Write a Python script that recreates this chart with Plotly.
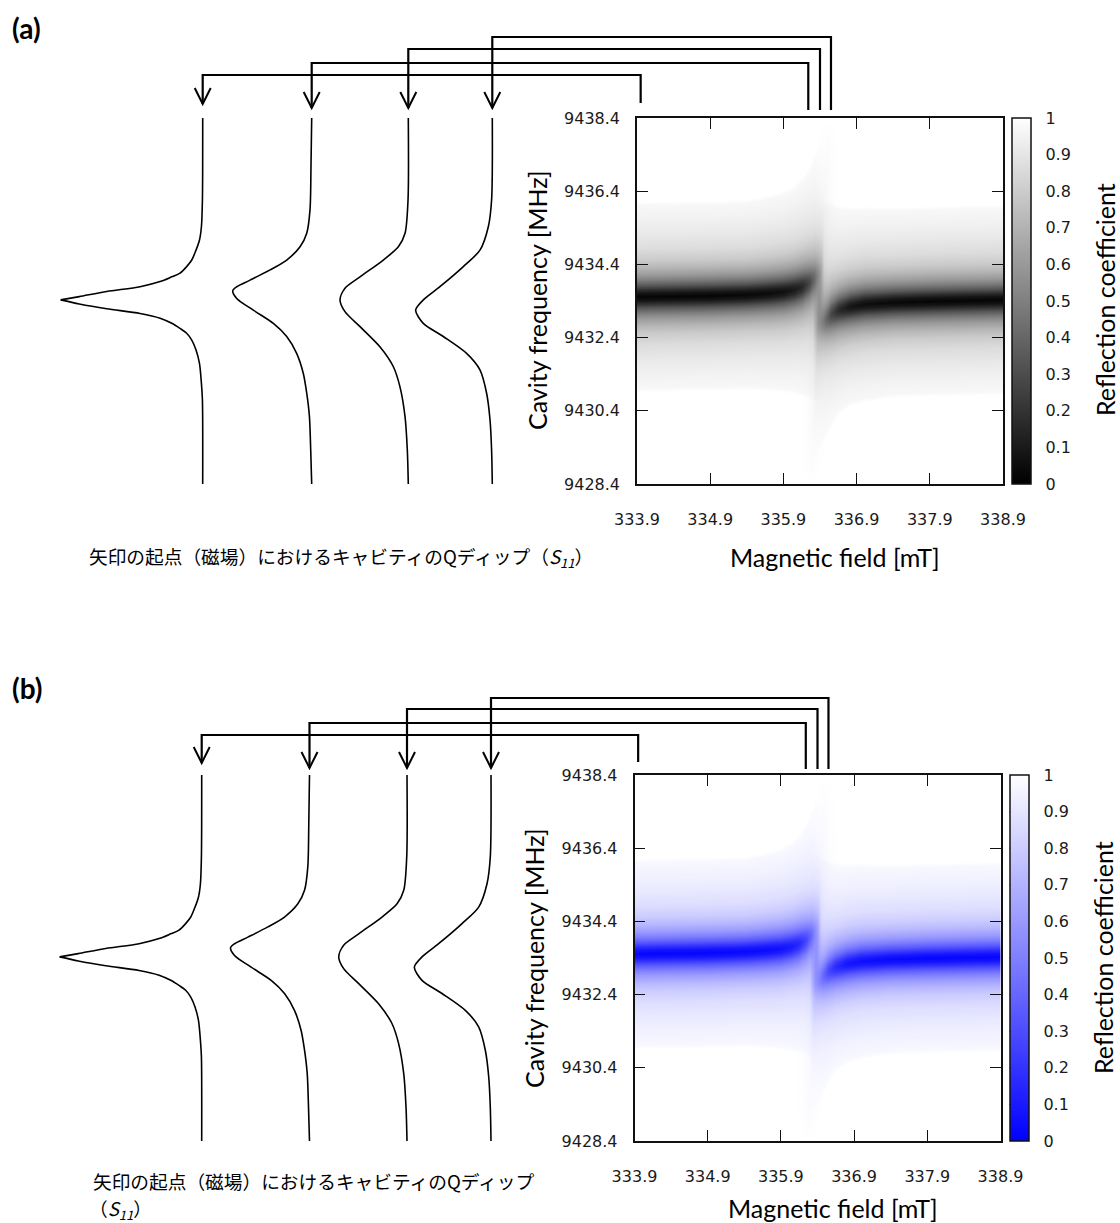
import numpy as np
import plotly.graph_objects as go

W, H = 1120, 1223

# ---------------- data ----------------
FIELD_TICKS = [333.9, 334.9, 335.9, 336.9, 337.9, 338.9]
FIELD_TICK_TEXT = ["333.9", "334.9", "335.9", "336.9", "337.9", "338.9"]
FREQ_TICKS = [9428.4, 9430.4, 9432.4, 9434.4, 9436.4, 9438.4]
FREQ_TICK_TEXT = ["9428.4", "9430.4", "9432.4", "9434.4", "9436.4", "9438.4"]
CB_TICKS = [0, 0.1, 0.2, 0.3, 0.4, 0.5, 0.6, 0.7, 0.8, 0.9, 1]
CB_TICK_TEXT = ["0", "0.1", "0.2", "0.3", "0.4", "0.5", "0.6", "0.7", "0.8", "0.9", "1"]

# lower-field branch of the cavity dip (dark band)
BRANCH_L_FIELD_MT = [333.9, 334.9, 335.4, 335.7, 335.9, 336.05, 336.15, 336.25, 336.32, 336.38, 336.45, 338.9]
BRANCH_L_CENTER_MHZ = [9433.52, 9433.55, 9433.58, 9433.62, 9433.66, 9433.72, 9433.79, 9433.90, 9434.02, 9434.15, 9434.30, 9434.30]
BRANCH_L_DEPTH = [0.98, 0.98, 0.97, 0.96, 0.94, 0.90, 0.85, 0.72, 0.55, 0.30, 0.0, 0.0]
BRANCH_L_WIDTH = [1.0, 1.0, 1.0, 1.03, 1.06, 1.1, 1.15, 1.22, 1.3, 1.35, 1.35, 1.35]
# higher-field branch
BRANCH_R_FIELD_MT = [333.9, 336.30, 336.36, 336.42, 336.47, 336.55, 336.65, 336.8, 337.0, 337.4, 337.9, 338.4, 338.9]
BRANCH_R_CENTER_MHZ = [9432.70, 9432.70, 9432.75, 9432.82, 9432.90, 9433.05, 9433.16, 9433.25, 9433.32, 9433.37, 9433.40, 9433.42, 9433.44]
BRANCH_R_DEPTH = [0.0, 0.0, 0.20, 0.40, 0.55, 0.72, 0.84, 0.92, 0.95, 0.97, 0.98, 0.98, 0.98]
BRANCH_R_WIDTH = [1.35, 1.35, 1.35, 1.3, 1.25, 1.18, 1.1, 1.05, 1.03, 1.0, 1.0, 1.0, 1.0]
# vertical cross-section of the dip (distance from band centre -> reflection)
DIP_OFFSET_MHZ = [0.0, 0.1, 0.2, 0.3, 0.45, 0.6, 0.8, 1.0, 1.3, 1.7, 2.1, 2.5, 2.6, 20.0]
DIP_REFL = [0.0, 0.06, 0.18, 0.32, 0.48, 0.60, 0.71, 0.79, 0.86, 0.91, 0.945, 0.97, 1.0, 1.0]
# faint spin-resonance streak
STREAK_FREQ_MHZ = [9428.4, 9429.2, 9430.0, 9430.8, 9431.6, 9432.3, 9432.8, 9433.2, 9433.6, 9434.0,
                   9434.5, 9435.2, 9436.0, 9436.8, 9437.6, 9438.4]
STREAK_FIELD_MT = [336.27, 336.29, 336.31, 336.33, 336.35, 336.36, 336.37, 336.38, 336.39, 336.40,
                   336.41, 336.43, 336.45, 336.47, 336.49, 336.51]
STREAK_DEPTH = [0.0, 0.015, 0.025, 0.035, 0.06, 0.12, 0.2, 0.25, 0.25, 0.2, 0.13, 0.07, 0.04, 0.025, 0.012, 0.0]
STREAK_OFFSET_MT = [0.0, 0.04, 0.08, 0.13, 0.20, 0.30, 5.0]
STREAK_SHAPE = [1.0, 0.70, 0.40, 0.18, 0.06, 0.0, 0.0]

# fields at which the Q-dips are taken (arrow origins)
ARROW_FIELD_MT = [333.95, 336.24, 336.40, 336.55]

# Q-dip curves (reflection vs frequency); None splits the cusp of the first curve
CURVE1_FREQ = [9438.4, 9436.16, 9435.43, 9435.06, 9434.79, 9434.52, 9434.34, 9434.16, 9434.06, 9433.93, 9433.79, 9433.66, 9433.52, 9433.43,
               None,
               9433.43, 9433.32, 9433.19, 9433.06, 9432.93, 9432.79, 9432.65, 9432.52, 9432.33, 9432.06, 9431.70, 9431.15, 9430.70, 9428.4]
CURVE1_REFL = [1.0, 0.998, 0.991, 0.977, 0.953, 0.923, 0.887, 0.840, 0.782, 0.700, 0.559, 0.324, 0.131, 0.0,
               None,
               0.0, 0.131, 0.324, 0.559, 0.700, 0.782, 0.840, 0.887, 0.923, 0.953, 0.977, 0.991, 0.998, 1.0]
CURVE2_FREQ = [9438.4, 9437.07, 9435.89, 9435.25, 9434.88, 9434.52, 9434.25, 9433.97, 9433.79, 9433.68,
               9433.47, 9433.15, 9432.79, 9432.43, 9431.97, 9431.42, 9430.88, 9430.24, 9429.33, 9428.4]
CURVE2_REFL = [1.0, 0.995, 0.988, 0.965, 0.918, 0.824, 0.707, 0.566, 0.472, 0.444,
               0.472, 0.589, 0.730, 0.824, 0.894, 0.941, 0.965, 0.984, 0.993, 1.0]
CURVE3_FREQ = [9438.4, 9436.16, 9435.25, 9434.88, 9434.52, 9434.06, 9433.75, 9433.43,
               9433.11, 9432.70, 9432.15, 9431.61, 9431.06, 9430.24, 9429.33, 9428.4]
CURVE3_REFL = [1.0, 0.998, 0.977, 0.930, 0.824, 0.660, 0.554, 0.519,
               0.554, 0.660, 0.800, 0.894, 0.941, 0.977, 0.993, 1.0]
CURVE4_FREQ = [9438.4, 9436.16, 9435.43, 9434.79, 9434.34, 9433.79, 9433.43, 9433.15,
               9432.79, 9432.43, 9431.97, 9431.52, 9430.88, 9430.15, 9429.33, 9428.4]
CURVE4_REFL = [1.0, 0.995, 0.972, 0.913, 0.796, 0.631, 0.514, 0.460,
               0.514, 0.655, 0.819, 0.913, 0.960, 0.984, 0.995, 1.0]
CURVES = [(CURVE1_FREQ, CURVE1_REFL), (CURVE2_FREQ, CURVE2_REFL),
          (CURVE3_FREQ, CURVE3_REFL), (CURVE4_FREQ, CURVE4_REFL)]

CAPTION = "矢印の起点（磁場）におけるキャビティのQディップ"
CAPTION_SUFFIX = "（<i>S</i><sub><i>11</i></sub>）"

# ---------------- build the reflection table ----------------
fx = np.linspace(333.9, 338.9, 367)
fy = np.linspace(9428.4, 9438.4, 367)


def branch(fields, centres, depths, widths):
    c = np.interp(fx, fields, centres)
    d = np.interp(fx, fields, depths)
    w = np.interp(fx, fields, widths)
    dist = np.abs(fy[:, None] - c[None, :]) / w[None, :]
    return 1 - d[None, :] * (1 - np.interp(dist, DIP_OFFSET_MHZ, DIP_REFL))


band_l = branch(BRANCH_L_FIELD_MT, BRANCH_L_CENTER_MHZ, BRANCH_L_DEPTH, BRANCH_L_WIDTH)
band_r = branch(BRANCH_R_FIELD_MT, BRANCH_R_CENTER_MHZ, BRANCH_R_DEPTH, BRANCH_R_WIDTH)
s_field = np.interp(fy, STREAK_FREQ_MHZ, STREAK_FIELD_MT)
s_depth = np.interp(fy, STREAK_FREQ_MHZ, STREAK_DEPTH)
s_shape = np.interp(np.abs(fx[None, :] - s_field[:, None]), STREAK_OFFSET_MT, STREAK_SHAPE)
Z = np.clip(band_l * band_r * (1 - s_depth[:, None] * s_shape), 0, 1)

# ---------------- layout helpers ----------------
def PX(x):
    return x / W


def PY(y):
    return 1 - y / H


PANELS = [
    dict(label="(a)", label_y=28, box=(637, 118, 1003, 484), cb_x=1012,
         bases=[202.7, 311.7, 408.3, 492.3], levels=[75, 63, 49, 37],
         vbottom=[103, 110, 110, 110], tips=[104, 108, 108, 108],
         colorscale=[[0, "rgb(0,0,0)"], [1, "rgb(255,255,255)"]],
         xtitle=(835, 557), ytitle=(537, 300), cbtitle=(1105, 300),
         captions=[(88, 557, CAPTION + CAPTION_SUFFIX)]),
    dict(label="(b)", label_y=688, box=(634.5, 775, 1000.5, 1141), cb_x=1009.5,
         bases=[201.7, 309.5, 407.0, 491.0], levels=[735, 723, 709, 698],
         vbottom=[762, 769, 769, 769], tips=[763, 768, 768, 768],
         colorscale=[[0, "rgb(0,0,255)"], [1, "rgb(255,255,255)"]],
         xtitle=(833, 1208), ytitle=(534, 958), cbtitle=(1103, 958),
         captions=[(92, 1180, CAPTION), (88, 1209, CAPTION_SUFFIX)]),
]

TICKFONT = dict(family="DejaVu Sans", size=16, color="#1a1a1a")
TITLEFONT = dict(family="Lato", size=25, color="#000")
CAPFONT = dict(family="Noto Sans CJK JP", size=18.7, color="#000")
CURVE_SCALE = 142.0  # px per unit reflection in the sketch curves

fig = go.Figure()
layout = dict(width=W, height=H, margin=dict(l=0, r=0, t=0, b=0, pad=0, autoexpand=False), autosize=False,
              paper_bgcolor="white", plot_bgcolor="rgba(0,0,0,0)", showlegend=False)
shapes, annotations = [], []

axis_no = 1
for p in PANELS:
    x0, y0, x1, y1 = p["box"]
    hx = axis_no
    hxname = "x" if hx == 1 else f"x{hx}"
    hyname = "y" if hx == 1 else f"y{hx}"
    hxkey = "xaxis" if hx == 1 else f"xaxis{hx}"
    hykey = "yaxis" if hx == 1 else f"yaxis{hx}"
    ydom = [PY(y1), PY(y0)]
    fig.add_trace(go.Heatmap(
        x=fx, y=fy, z=Z, zmin=0, zmax=1, colorscale=p["colorscale"], xaxis=hxname, yaxis=hyname,
        hoverinfo="skip",
        colorbar=dict(x=PX(p["cb_x"]), xanchor="left", xref="paper", y=(ydom[0] + ydom[1]) / 2, yanchor="middle",
                      lenmode="pixels", len=y1 - y0, thicknessmode="pixels", thickness=19,
                      xpad=0, ypad=0, outlinewidth=1.5, outlinecolor="#111",
                      tickmode="array", tickvals=CB_TICKS, ticktext=CB_TICK_TEXT,
                      ticks="outside", ticklen=11, tickwidth=1, tickcolor="rgba(0,0,0,0)",
                      tickfont=TICKFONT)))
    # separators across the colour bar at each tick
    for v in CB_TICKS[1:-1]:
        yy = y1 - v * (y1 - y0)
        shapes.append(dict(type="line", xref="paper", yref="paper", x0=PX(p["cb_x"]), x1=PX(p["cb_x"] + 19),
                           y0=PY(yy), y1=PY(yy), line=dict(color="#111", width=1.2), layer="above"))
    layout[hxkey] = dict(domain=[PX(x0), PX(x1)], range=[333.9, 338.9], anchor=hyname,
                         tickmode="array", tickvals=FIELD_TICKS, ticktext=FIELD_TICK_TEXT,
                         ticks="inside", ticklen=11, tickwidth=1.3, tickcolor="#111",
                         showline=True, linewidth=1.5, linecolor="#111", mirror="ticks",
                         showgrid=False, zeroline=False, tickfont=TICKFONT, ticklabelstandoff=20,
                         automargin=False, fixedrange=True)
    layout[hykey] = dict(domain=ydom, range=[9428.4, 9438.4], anchor=hxname,
                         tickmode="array", tickvals=FREQ_TICKS, ticktext=FREQ_TICK_TEXT,
                         ticks="inside", ticklen=11, tickwidth=1.3, tickcolor="#111",
                         showline=True, linewidth=1.5, linecolor="#111", mirror="ticks",
                         showgrid=False, zeroline=False, tickfont=TICKFONT, ticklabelstandoff=12,
                         automargin=False, fixedrange=True)
    axis_no += 1

    # Q-dip sketches on their own reflection axes, sharing the frequency axis
    for (cf, cr), base in zip(CURVES, p["bases"]):
        name = f"x{axis_no}"
        layout[f"xaxis{axis_no}"] = dict(domain=[PX(base - CURVE_SCALE * 1.03), PX(base + CURVE_SCALE * 0.03)],
                                         range=[-0.03, 1.03], visible=False, anchor=hyname, fixedrange=True)
        fig.add_trace(go.Scatter(x=cr, y=cf, xaxis=name, yaxis=hyname, mode="lines",
                                 line=dict(color="#000", width=1.6, shape="spline", smoothing=0.8),
                                 connectgaps=False, hoverinfo="skip"))
        axis_no += 1

    # connectors from the field on the map to the sketches
    for B, base, lev, vb, tip in zip(ARROW_FIELD_MT, p["bases"], p["levels"], p["vbottom"], p["tips"]):
        bx = x0 + (B - 333.9) / 5.0 * (x1 - x0)
        path = f"M {PX(bx)} {PY(vb)} L {PX(bx)} {PY(lev)} L {PX(base)} {PY(lev)} L {PX(base)} {PY(tip)}"
        shapes.append(dict(type="path", xref="paper", yref="paper", path=path,
                           line=dict(color="#000", width=2.2), layer="above"))
        head = f"M {PX(base - 8)} {PY(tip - 16)} L {PX(base)} {PY(tip)} L {PX(base + 8)} {PY(tip - 16)}"
        shapes.append(dict(type="path", xref="paper", yref="paper", path=head,
                           line=dict(color="#000", width=2.0), layer="above"))

    annotations += [
        dict(text=f"<b>{p['label']}</b>", x=PX(10), y=PY(p["label_y"]), xanchor="left", yanchor="middle",
             font=dict(family="Lato", size=28, color="#000")),
        dict(text="Magnetic field [mT]", x=PX(p["xtitle"][0]), y=PY(p["xtitle"][1]),
             xanchor="center", yanchor="middle", font=TITLEFONT),
        dict(text="Cavity frequency [MHz]", x=PX(p["ytitle"][0]), y=PY(p["ytitle"][1]), textangle=-90,
             xanchor="center", yanchor="middle", font=TITLEFONT),
        dict(text="Reflection coefficient", x=PX(p["cbtitle"][0]), y=PY(p["cbtitle"][1]), textangle=-90,
             xanchor="center", yanchor="middle", font=TITLEFONT),
    ]
    for cx, cy, ctext in p["captions"]:
        annotations.append(dict(text=ctext, x=PX(cx), y=PY(cy), xanchor="left", yanchor="middle",
                                align="left", font=CAPFONT, borderpad=0))

for a in annotations:
    a.update(xref="paper", yref="paper", showarrow=False)
layout["shapes"] = shapes
layout["annotations"] = annotations
fig.update_layout(**layout)
fig.write_html("out.html", config={"displayModeBar": False},
               post_script="document.body.style.margin='0px';document.body.style.overflow='hidden';")
